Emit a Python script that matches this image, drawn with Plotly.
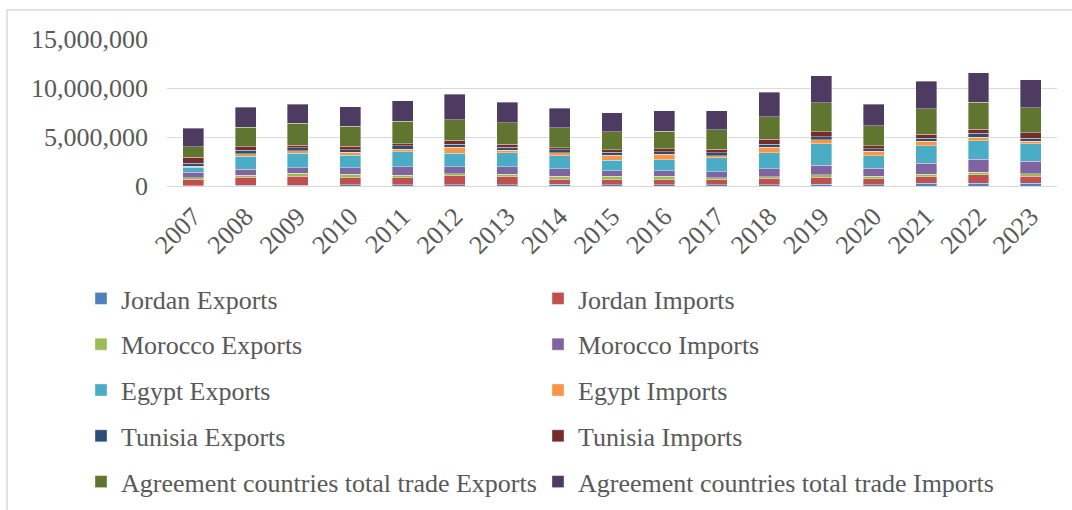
import plotly.graph_objects as go

years = [str(y) for y in range(2007, 2024)]

jordan_exports = [0.05e6, 0.10e6, 0.10e6, 0.15e6, 0.15e6, 0.15e6, 0.15e6, 0.20e6, 0.12e6, 0.14e6, 0.14e6, 0.14e6, 0.20e6, 0.14e6, 0.30e6, 0.30e6, 0.27e6]
jordan_imports = [0.60e6, 0.78e6, 0.91e6, 0.71e6, 0.71e6, 0.88e6, 0.78e6, 0.51e6, 0.54e6, 0.48e6, 0.48e6, 0.58e6, 0.71e6, 0.61e6, 0.65e6, 0.85e6, 0.75e6]
morocco_exports = [0.17e6, 0.20e6, 0.27e6, 0.34e6, 0.24e6, 0.24e6, 0.27e6, 0.27e6, 0.34e6, 0.37e6, 0.24e6, 0.24e6, 0.24e6, 0.24e6, 0.27e6, 0.24e6, 0.24e6]
morocco_imports = [0.57e6, 0.64e6, 0.57e6, 0.64e6, 0.85e6, 0.71e6, 0.74e6, 0.78e6, 0.57e6, 0.58e6, 0.61e6, 0.78e6, 0.95e6, 0.82e6, 1.09e6, 1.33e6, 1.26e6]
egypt_exports = [0.54e6, 1.32e6, 1.49e6, 1.28e6, 1.52e6, 1.35e6, 1.45e6, 1.32e6, 1.08e6, 1.09e6, 1.39e6, 1.67e6, 2.20e6, 1.29e6, 1.80e6, 1.90e6, 1.80e6]
egypt_imports = [0.10e6, 0.24e6, 0.24e6, 0.30e6, 0.27e6, 0.64e6, 0.27e6, 0.30e6, 0.47e6, 0.58e6, 0.24e6, 0.54e6, 0.44e6, 0.44e6, 0.48e6, 0.34e6, 0.27e6]
tunisia_exports = [0.30e6, 0.37e6, 0.30e6, 0.30e6, 0.37e6, 0.30e6, 0.27e6, 0.30e6, 0.30e6, 0.27e6, 0.30e6, 0.30e6, 0.30e6, 0.27e6, 0.30e6, 0.41e6, 0.30e6]
tunisia_imports = [0.60e6, 0.37e6, 0.30e6, 0.34e6, 0.20e6, 0.40e6, 0.34e6, 0.24e6, 0.30e6, 0.30e6, 0.37e6, 0.51e6, 0.48e6, 0.30e6, 0.37e6, 0.41e6, 0.54e6]
agreement_exports = [1.10e6, 2.00e6, 2.20e6, 2.06e6, 2.30e6, 2.10e6, 2.20e6, 2.03e6, 1.83e6, 1.77e6, 1.97e6, 2.30e6, 2.96e6, 2.04e6, 2.62e6, 2.79e6, 2.58e6]
agreement_imports = [1.86e6, 2.03e6, 1.96e6, 1.96e6, 2.10e6, 2.60e6, 2.10e6, 1.96e6, 1.93e6, 2.10e6, 1.94e6, 2.50e6, 2.75e6, 2.18e6, 2.79e6, 2.99e6, 2.82e6]

series = [
    ("Jordan Exports", jordan_exports, "#4f81bd", "legend"),
    ("Jordan Imports", jordan_imports, "#c0504d", "legend2"),
    ("Morocco Exports", morocco_exports, "#9bbb59", "legend"),
    ("Morocco Imports", morocco_imports, "#8064a2", "legend2"),
    ("Egypt Exports", egypt_exports, "#4bacc6", "legend"),
    ("Egypt Imports", egypt_imports, "#f79646", "legend2"),
    ("Tunisia Exports", tunisia_exports, "#2c4d75", "legend"),
    ("Tunisia Imports", tunisia_imports, "#772c2a", "legend2"),
    ("Agreement countries total trade Exports", agreement_exports, "#5f7530", "legend"),
    ("Agreement countries total trade Imports", agreement_imports, "#4d3b62", "legend2"),
]

FONT = "Liberation Serif, Times New Roman, serif"
TEXT = "#595959"

fig = go.Figure()
for name, vals, color, lg in series:
    fig.add_trace(go.Bar(
        x=years, y=vals, name=name, legend=lg, legendgroup=name,
        marker=dict(color=color, line=dict(color="rgba(255,255,255,0.45)", width=0.8)),
    ))

W, H = 1072, 510
L, R, T, B = 167, 15, 39, 324
pw = W - L - R
ph = H - T - B

def px_x(p):
    return (p - L) / pw

def px_y(p):
    return (H - B - p) / ph

fig.update_layout(
    width=W, height=H,
    margin=dict(l=L, r=R, t=T, b=B, autoexpand=False),
    barmode="stack", bargap=0.6,
    plot_bgcolor="white", paper_bgcolor="white",
    font=dict(family=FONT, size=26, color=TEXT),
    xaxis=dict(tickangle=-45, showgrid=False, showline=True, linecolor="#d9d9d9",
               linewidth=1, ticks="", automargin=False, ticklabelstandoff=4,
               tickfont=dict(size=26, color=TEXT)),
    yaxis=dict(range=[0, 15e6], tickvals=[0, 5e6, 10e6, 15e6], tickformat=",d",
               showgrid=True, gridcolor="#d9d9d9", gridwidth=1, zeroline=False,
               ticks="", ticklabelstandoff=18, automargin=False,
               tickfont=dict(size=26, color=TEXT)),
    legend=dict(x=px_x(81), y=px_y(275), xanchor="left", yanchor="top",
                orientation="v", traceorder="grouped", tracegroupgap=9,
                font=dict(size=26, color=TEXT), bgcolor="rgba(0,0,0,0)"),
    legend2=dict(x=px_x(538), y=px_y(275), xanchor="left", yanchor="top",
                 orientation="v", traceorder="grouped", tracegroupgap=9,
                 font=dict(size=26, color=TEXT), bgcolor="rgba(0,0,0,0)"),
    shapes=[dict(type="rect", xref="paper", yref="paper",
                 x0=px_x(7), x1=px_x(1080), y0=px_y(520), y1=px_y(10),
                 line=dict(color="#d9d9d9", width=1.5), fillcolor="rgba(0,0,0,0)",
                 layer="below")],
)

fig.write_html("out.html")
